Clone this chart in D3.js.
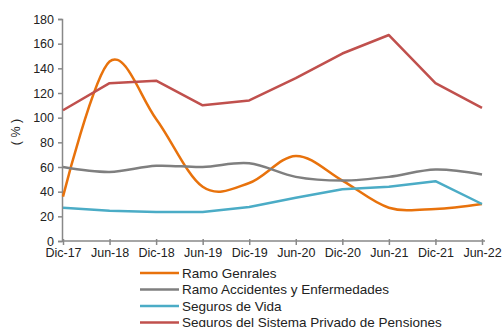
<!DOCTYPE html>
<html>
<head>
<meta charset="utf-8">
<script src="https://cdn.jsdelivr.net/npm/d3@7"></script>
<style>
  body { margin: 0; background: #fff; }
  text { font-family: "Liberation Sans", Arial, sans-serif; }
</style>
</head>
<body>
<svg id="chart"></svg>
<script>
const periods = ["Dic-17", "Jun-18", "Dic-18", "Jun-19", "Dic-19", "Jun-20", "Dic-20", "Jun-21", "Dic-21", "Jun-22"];
const y_ticks = [0, 20, 40, 60, 80, 100, 120, 140, 160, 180];

const ramo_generales = [36, 145.5, 99, 44, 47, 69, 49, 27, 26, 30];
const ramo_accidentes = [60, 56, 61, 60, 63, 52, 49, 52, 58, 54];
const seguros_vida = [27, 24.5, 23.5, 23.5, 27.5, 35, 42, 44, 48.5, 30];
const seguros_pensiones = [106, 128, 130, 110, 114, 132, 152, 167, 128, 108];

const series = [
    { name: "Ramo Genrales", values: ramo_generales, color: "#E8720C", smooth: true },
    { name: "Ramo Accidentes y Enfermedades", values: ramo_accidentes, color: "#7F7F7F", smooth: true },
    { name: "Seguros de Vida", values: seguros_vida, color: "#4BACC6", smooth: false },
    { name: "Seguros del Sistema Privado de Pensiones", values: seguros_pensiones, color: "#C0504D", smooth: false }
];

let chart_width = 503;
let chart_height = 327;
let plot_left = 62;
let plot_right = 482;
let plot_top = 19;
let plot_bottom = 241;

const svg = d3.select("#chart").attr("width", chart_width).attr("height", chart_height);

const x = d3.scalePoint().domain(periods).range([plot_left + 1, plot_right]);
const y = d3.scaleLinear().domain([0, 180]).range([plot_bottom, plot_top]);

// y axis
const y_axis = svg.append("g")
    .attr("transform", "translate(" + plot_left + ",0)")
    .call(d3.axisLeft(y).tickValues(y_ticks).tickSize(4).tickPadding(4));
y_axis.select(".domain").attr("stroke", "#888").attr("stroke-width", 1.5);
y_axis.selectAll(".tick line").attr("stroke", "#888").attr("stroke-width", 1.5);
y_axis.selectAll("text").attr("font-size", 12.5).attr("fill", "#222");

// x axis
const x_axis = svg.append("g")
    .attr("transform", "translate(0," + plot_bottom + ")")
    .call(d3.axisBottom(x).tickSize(4).tickSizeOuter(0).tickPadding(3));
x_axis.select(".domain").attr("stroke", "#888").attr("stroke-width", 1.5)
    .attr("d", "M" + plot_left + ",0H" + (plot_right + 3));
x_axis.selectAll(".tick line").attr("stroke", "#888").attr("stroke-width", 1.5).attr("y1", -2);
x_axis.selectAll("text").attr("font-size", 12.5).attr("fill", "#222");

svg.append("text")
    .attr("transform", "translate(20,132) rotate(-90)")
    .attr("text-anchor", "middle")
    .attr("font-size", 12.5)
    .attr("fill", "#222")
    .text("( % )");

const smooth_line = d3.line()
    .x((d, i) => x(periods[i]))
    .y(d => y(d))
    .curve(d3.curveCardinal.tension(0));
const straight_line = d3.line()
    .x((d, i) => x(periods[i]))
    .y(d => y(d));

svg.selectAll(".series").data(series).enter().append("path")
    .attr("class", "series")
    .attr("fill", "none")
    .attr("stroke", d => d.color)
    .attr("stroke-width", 2.5)
    .attr("stroke-linejoin", "round")
    .attr("d", d => d.smooth ? smooth_line(d.values) : straight_line(d.values));

// legend
const legend = svg.selectAll(".legend").data(series).enter().append("g")
    .attr("class", "legend")
    .attr("transform", (d, i) => "translate(140," + (273 + i * 16.5) + ")");
legend.append("line")
    .attr("x1", 0).attr("x2", 39)
    .attr("stroke", d => d.color)
    .attr("stroke-width", 2.5);
legend.append("text")
    .attr("x", 42)
    .attr("dy", "0.35em")
    .attr("font-size", 13.5)
    .attr("fill", "#222")
    .text(d => d.name);
</script>
</body>
</html>
